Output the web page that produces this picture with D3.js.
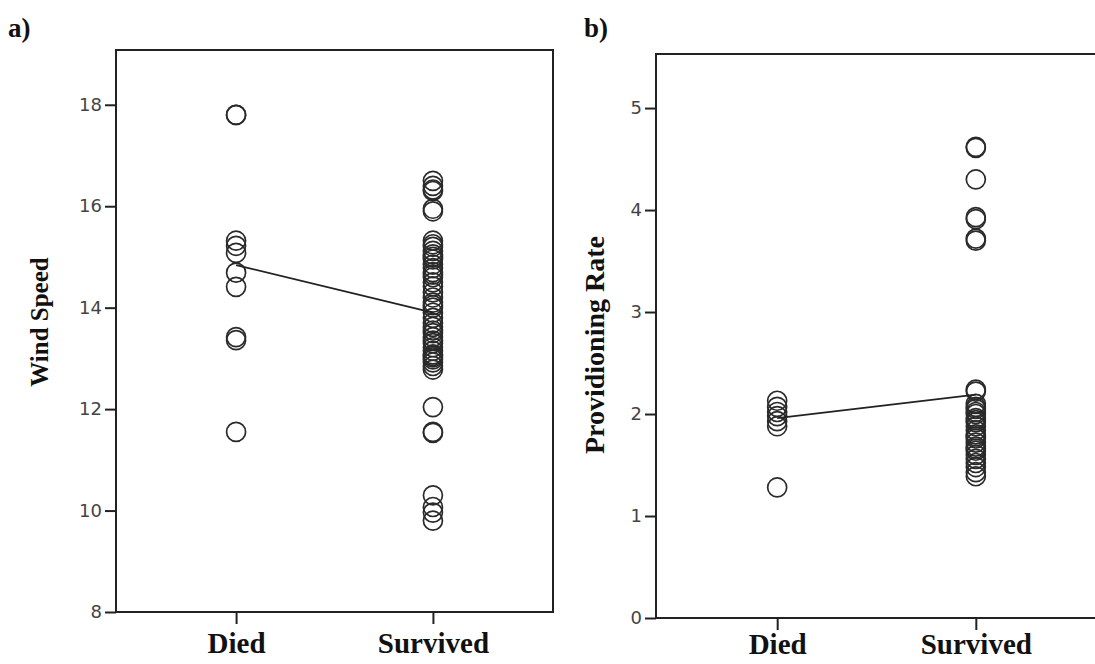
<!DOCTYPE html>
<html>
<head>
<meta charset="utf-8">
<script src="https://cdn.jsdelivr.net/npm/d3@7"></script>
<style>
  body { margin: 0; background: #fff; }
  svg { display: block; }
  .tick text { font-family: "DejaVu Sans", sans-serif; fill: #444; }
</style>
</head>
<body>
<div id="chart"></div>
<script>
// group names on the x axis
var groups = ["Died", "Survived"]

// panel a: wind speed
var windDied = [17.8, 17.8, 15.32, 15.22, 15.08, 14.69, 14.41, 13.42, 13.36, 11.55]
var windSurvived = [16.5, 16.4, 16.33, 16.3, 15.95, 15.9,
  15.32, 15.25, 15.2, 15.12, 15.05, 15.0, 14.95, 14.85, 14.78, 14.7, 14.65, 14.6,
  14.5, 14.42, 14.3, 14.2, 14.1, 14.05, 14.0, 13.9, 13.8, 13.7, 13.62, 13.55, 13.5,
  13.42, 13.35, 13.3, 13.22, 13.15, 13.08, 13.05, 13.02, 12.98, 12.92, 12.85, 12.78,
  12.04, 11.55, 11.53, 10.3, 10.07, 9.96, 9.8]
var windMeans = [14.84, 13.9]
var windTicks = [8, 10, 12, 14, 16, 18]

// panel b: providioning rate
var rateDied = [2.13, 2.07, 2.02, 1.98, 1.93, 1.88, 1.28]
var rateSurvived = [4.62, 4.61, 4.3, 3.93, 3.91, 3.72, 3.7,
  2.24, 2.22, 2.1, 2.07, 2.05, 2.02, 2.0, 1.96, 1.94, 1.92, 1.88, 1.84, 1.8, 1.78,
  1.76, 1.72, 1.68, 1.66, 1.64, 1.6, 1.56, 1.52, 1.48, 1.43, 1.39]
var rateMeans = [1.96, 2.19]
var rateTicks = [0, 1, 2, 3, 4, 5]

var svg = d3.select("#chart").append("svg")
    .attr("width", 1095)
    .attr("height", 664)

var drawPanel = function(opt) {
    var g = svg.append("g")

    var x = d3.scalePoint()
        .domain(groups)
        .range([opt.left, opt.right])
        .padding(0.61)
    var y = d3.scaleLinear()
        .domain(opt.domain)
        .range([opt.bottom, opt.top])

    // frame
    g.append("rect")
        .attr("x", opt.left)
        .attr("y", opt.top)
        .attr("width", opt.right - opt.left)
        .attr("height", opt.bottom - opt.top)
        .style("fill", "none")
        .style("stroke", "#222")
        .style("stroke-width", 2)

    // y axis
    var yAxis = g.append("g")
        .attr("transform", "translate(" + opt.left + ",0)")
        .call(d3.axisLeft(y).tickValues(opt.ticks).tickSize(11).tickPadding(3).tickFormat(d3.format("d")))
    yAxis.select(".domain").remove()
    yAxis.selectAll(".tick line").style("stroke", "#222").style("stroke-width", 2)
    yAxis.selectAll(".tick text").style("font-size", "18px")

    // x axis
    var xAxis = g.append("g")
        .attr("transform", "translate(0," + opt.bottom + ")")
        .call(d3.axisBottom(x).tickSize(12).tickPadding(opt.xPad))
    xAxis.select(".domain").remove()
    xAxis.selectAll(".tick line").style("stroke", "#222").style("stroke-width", 2)
    xAxis.selectAll(".tick text")
        .style("font-family", "'Liberation Serif', 'Times New Roman', serif")
        .style("font-weight", "bold")
        .style("font-size", "29px")
        .style("fill", "#111")

    // points
    var pts = []
    opt.died.forEach(function(v) { pts.push({g: "Died", v: v}) })
    opt.survived.forEach(function(v) { pts.push({g: "Survived", v: v}) })
    g.selectAll("circle.pt")
        .data(pts)
        .enter().append("circle")
        .attr("class", "pt")
        .attr("cx", function(d) { return x(d.g) })
        .attr("cy", function(d) { return y(d.v) })
        .attr("r", 9.5)
        .style("fill", "none")
        .style("stroke", "#2a2a2a")
        .style("stroke-width", 1.7)

    // mean line
    g.append("path")
        .datum(opt.means)
        .attr("d", d3.line()
            .x(function(d, i) { return x(groups[i]) })
            .y(function(d) { return y(d) }))
        .style("fill", "none")
        .style("stroke", "#222")
        .style("stroke-width", 1.8)

    // y title
    g.append("text")
        .attr("transform", "translate(" + opt.titleX + "," + opt.titleY + ") rotate(-90)")
        .attr("text-anchor", "middle")
        .style("font-family", "'Liberation Serif', 'Times New Roman', serif")
        .style("font-weight", "bold")
        .style("font-size", opt.titleSize + "px")
        .style("fill", "#111")
        .text(opt.title)

    // panel letter
    g.append("text")
        .attr("x", opt.letterX)
        .attr("y", 37)
        .style("font-family", "'Liberation Serif', 'Times New Roman', serif")
        .style("font-weight", "bold")
        .style("font-size", "27px")
        .style("fill", "#111")
        .text(opt.letter)
}

drawPanel({
    left: 116, right: 553, top: 50, bottom: 612,
    domain: [8, 19.08], ticks: windTicks, xPad: 8,
    died: windDied, survived: windSurvived, means: windMeans,
    title: "Wind Speed", titleX: 48, titleY: 322, titleSize: 25,
    letter: "a)", letterX: 8
})

drawPanel({
    left: 656, right: 1097, top: 54, bottom: 618,
    domain: [0, 5.53], ticks: rateTicks, xPad: 3,
    died: rateDied, survived: rateSurvived, means: rateMeans,
    title: "Providioning Rate", titleX: 604, titleY: 345, titleSize: 28,
    letter: "b)", letterX: 584
})
</script>
</body>
</html>
